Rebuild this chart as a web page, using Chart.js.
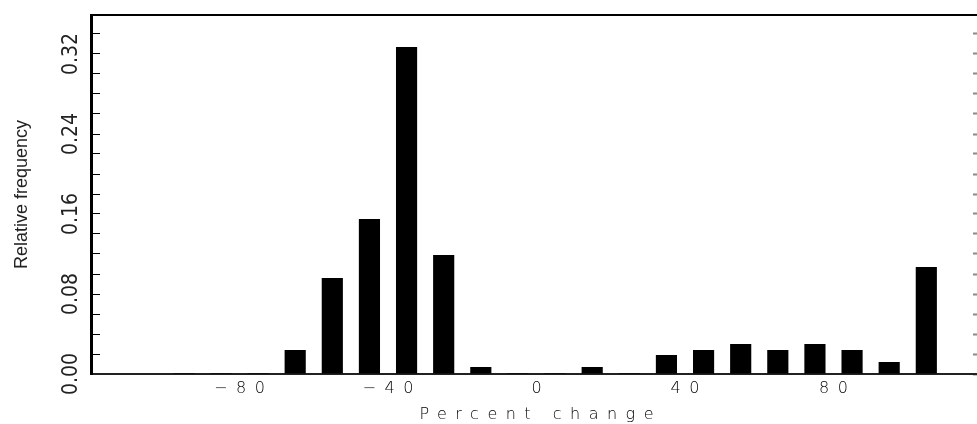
<!DOCTYPE html>
<html>
<head>
<meta charset="utf-8">
<script src="https://cdn.jsdelivr.net/npm/chart.js@4.4.1/dist/chart.umd.min.js"></script>
<style>
  html, body { margin: 0; padding: 0; background: #fff; overflow: hidden; }
  .chart-box { position: relative; width: 1000px; height: 424px; }
</style>
</head>
<body>
<div class="chart-box"><canvas id="histChart"></canvas></div>
<script>
// Histogram: centre of each 10-point bin and its relative frequency
const binCenters = [-95, -85, -75, -65, -55, -45, -35, -25, -15, -5, 5, 15, 25, 35, 45, 55, 65, 75, 85, 95, 105];
const relFrequency = [0.001, 0.001, 0.001, 0.024, 0.096, 0.155, 0.327, 0.119, 0.007, 0.001, 0.001,
  0.007, 0.001, 0.019, 0.024, 0.030, 0.024, 0.030, 0.024, 0.012, 0.107];

const xTickValues = [-80, -40, 0, 40, 80];
const xTickLabels = ['\u221280', '\u221240', '0', '40', '80'];
const yTickValues = [0, 0.08, 0.16, 0.24, 0.32];
const yTickLabels = ['0.00', '0.08', '0.16', '0.24', '0.32'];

const X_MIN = -120;
const X_MAX = 120;
const Y_MAX = 0.359;
const LETTER_SPACING = 8.5;

// Linear scale whose labels and title are drawn letter-spaced
class SpacedLinearScale extends Chart.LinearScale {
  drawLabels(chartArea) {
    const ctx = this.ctx;
    ctx.save();
    ctx.letterSpacing = LETTER_SPACING + 'px';
    ctx.translate(LETTER_SPACING / 2, 0);
    super.drawLabels(chartArea);
    ctx.restore();
  }
  drawTitle() {
    const ctx = this.ctx;
    ctx.save();
    ctx.letterSpacing = LETTER_SPACING + 'px';
    ctx.translate(LETTER_SPACING / 2, 0);
    super.drawTitle();
    ctx.restore();
  }
}
SpacedLinearScale.id = 'spacedLinear';
SpacedLinearScale.defaults = Chart.LinearScale.defaults;
Chart.register(SpacedLinearScale);

function labelFor(values, labels, v) {
  const i = values.findIndex(t => Math.abs(t - v) < 1e-6);
  return i === -1 ? '' : labels[i];
}

// fixed axis sizes, no extra room reserved for edge labels
function fixSize(size) {
  return (scale) => {
    if (scale.isHorizontal()) scale.height = size;
    else scale.width = size;
    scale.paddingTop = 0;
    scale.paddingBottom = 0;
    scale.paddingLeft = 0;
    scale.paddingRight = 0;
  };
}

const wideFont = { family: '"DejaVu Sans", sans-serif', size: 16, weight: 200 };

new Chart(document.getElementById('histChart'), {
  type: 'bar',
  data: {
    datasets: [{
      data: binCenters.map((x, i) => ({ x: x, y: relFrequency[i] })),
      backgroundColor: '#000',
      borderWidth: 0,
      barPercentage: 0.57,
      categoryPercentage: 1,
      xAxisID: 'x',
      yAxisID: 'y',
    }],
  },
  options: {
    responsive: true,
    maintainAspectRatio: false,
    animation: false,
    layout: { padding: { top: 15, right: 18, bottom: 0, left: 0 } },
    plugins: {
      legend: { display: false },
      tooltip: { enabled: false },
    },
    scales: {
      x: {
        type: 'spacedLinear',
        position: 'bottom',
        offset: false,
        min: X_MIN,
        max: X_MAX,
        afterBuildTicks: (scale) => { scale.ticks = xTickValues.map(v => ({ value: v })); },
        afterFit: fixSize(50),
        ticks: {
          color: '#000',
          font: wideFont,
          padding: 5,
          maxRotation: 0,
          autoSkip: false,
          callback: (v) => labelFor(xTickValues, xTickLabels, v),
        },
        grid: { display: false, drawTicks: false, offset: false },
        border: { display: true, color: '#222', width: 2 },
        title: {
          display: true,
          text: 'Percent change',
          color: '#000',
          font: wideFont,
          padding: { top: 0, bottom: 0 },
        },
      },
      xTop: {
        type: 'linear',
        position: 'top',
        offset: false,
        min: X_MIN,
        max: X_MAX,
        afterFit: fixSize(0),
        ticks: { display: false },
        grid: { display: false, drawTicks: false },
        border: { display: true, color: '#000', width: 2 },
      },
      y: {
        type: 'linear',
        position: 'left',
        min: 0,
        max: Y_MAX,
        afterFit: fixSize(91),
        ticks: {
          stepSize: 0.02,
          includeBounds: false,
          autoSkip: false,
          minRotation: 90,
          maxRotation: 90,
          crossAlign: 'center',
          padding: 7,
          color: '#222',
          font: { family: '"Liberation Sans Narrow", "DejaVu Sans Condensed", sans-serif', size: 21 },
          callback: (v) => labelFor(yTickValues, yTickLabels, v),
        },
        grid: {
          drawOnChartArea: false,
          drawTicks: true,
          tickLength: -9,
          tickColor: '#000',
          tickWidth: 1,
        },
        border: { display: true, color: '#000', width: 3 },
        title: {
          display: true,
          text: 'Relative frequency',
          color: '#222',
          font: { family: '"Liberation Sans", sans-serif', size: 18 },
          padding: { top: 11, bottom: 0 },
        },
      },
      yRight: {
        type: 'linear',
        position: 'right',
        min: 0,
        max: Y_MAX,
        afterFit: fixSize(0),
        ticks: { display: false, stepSize: 0.02, includeBounds: false, autoSkip: false },
        grid: {
          drawOnChartArea: false,
          drawTicks: true,
          tickLength: -9,
          tickColor: '#888',
          tickWidth: 2,
        },
        border: { display: true, color: '#222', width: 2 },
      },
    },
  },
});
</script>
</body>
</html>
